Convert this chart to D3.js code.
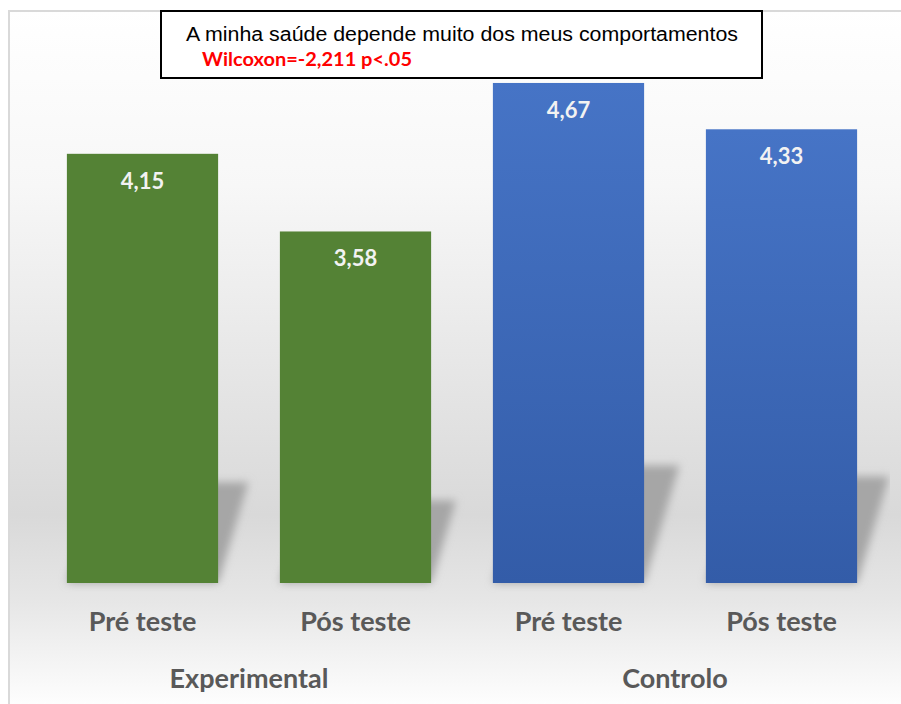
<!DOCTYPE html>
<html>
<head>
<meta charset="utf-8">
<script src="https://cdn.jsdelivr.net/npm/d3@7"></script>
<style>
  body { margin: 0; background: #fff; }
  .cat-label { font-family: Lato, "Open Sans", sans-serif; font-weight: 700; fill: #595959; }
</style>
</head>
<body>
<svg id="chart" width="901" height="704"></svg>
<script>
const categories = ['Pré teste', 'Pós teste', 'Pré teste', 'Pós teste'];
const groups = ['Experimental', 'Experimental', 'Controlo', 'Controlo'];
const values = [4.15, 3.58, 4.67, 4.33];
const valueLabels = ['4,15', '3,58', '4,67', '4,33'];
const groupNames = ['Experimental', 'Controlo'];
const yDomain = [1, 5];
const title = 'A minha saúde depende muito dos meus comportamentos';
const subtitle = 'Wilcoxon=-2,211 p<.05';

const data = categories.map((c, i) => ({ key: i, cat: c, group: groups[i], v: values[i], label: valueLabels[i] }));

const svg = d3.select('#chart');
const defs = svg.append('defs');

// chart area background, white -> grey -> white
const bg = defs.append('linearGradient').attr('id', 'bg')
  .attr('x1', 0).attr('y1', 0).attr('x2', 0).attr('y2', 1);
bg.append('stop').attr('offset', '0%').attr('stop-color', '#ffffff');
bg.append('stop').attr('offset', '25%').attr('stop-color', '#f7f7f7');
bg.append('stop').attr('offset', '72%').attr('stop-color', '#d9d9d9');
bg.append('stop').attr('offset', '84%').attr('stop-color', '#e6e6e6');
bg.append('stop').attr('offset', '100%').attr('stop-color', '#ffffff');

const blue = defs.append('linearGradient').attr('id', 'blue')
  .attr('x1', 0).attr('y1', 0).attr('x2', 0).attr('y2', 1);
blue.append('stop').attr('offset', '0%').attr('stop-color', '#4674c6');
blue.append('stop').attr('offset', '100%').attr('stop-color', '#335ca8');

defs.append('filter').attr('id', 'blur')
  .attr('x', '-20%').attr('y', '-20%').attr('width', '140%').attr('height', '140%')
  .append('feGaussianBlur').attr('stdDeviation', 4);

defs.append('clipPath').attr('id', 'plotclip')
  .append('rect').attr('x', 9).attr('y', 11).attr('width', 881).attr('height', 700);

svg.append('rect')
  .attr('x', 9).attr('y', 11).attr('width', 900).attr('height', 700)
  .attr('fill', 'url(#bg)')
  .attr('stroke', '#d9d9d9').attr('stroke-width', 2);

const xScale = d3.scaleBand()
  .domain(data.map(d => d.key))
  .range([36, 888])
  .paddingInner(0.29)
  .paddingOuter(0.145);

const yScale = d3.scaleLinear()
  .domain(yDomain)
  .range([583, 38]);

const base = yScale(yDomain[0]);

// floor shadows, skewed up to the right
const g = svg.append('g').attr('clip-path', 'url(#plotclip)');
g.selectAll('path.shadow').data(data)
  .enter().append('path')
  .attr('class', 'shadow')
  .attr('fill', '#a6a6a6')
  .attr('filter', 'url(#blur)')
  .attr('d', d => {
    const x0 = xScale(d.key), x1 = x0 + xScale.bandwidth();
    const h = (base - yScale(d.v)) * 0.235;
    const s = h * 0.3;
    return `M${x0},${base}L${x1},${base}L${x1 + s},${base - h}L${x0 + s},${base - h}Z`;
  });

g.selectAll('rect.bar').data(data)
  .enter().append('rect')
  .attr('class', 'bar')
  .attr('x', d => xScale(d.key))
  .attr('y', d => yScale(d.v))
  .attr('width', xScale.bandwidth())
  .attr('height', d => base - yScale(d.v))
  .attr('fill', d => d.group === 'Experimental' ? '#548235' : 'url(#blue)');

g.selectAll('text.val').data(data)
  .enter().append('text')
  .attr('class', 'val')
  .attr('x', d => xScale(d.key) + xScale.bandwidth() / 2)
  .attr('y', d => yScale(d.v) + 35)
  .attr('text-anchor', 'middle')
  .attr('font-family', 'Lato, "Open Sans", sans-serif')
  .attr('font-weight', 700)
  .attr('font-size', 22)
  .attr('fill', '#f2f2f2')
  .text(d => d.label);

// category axis
const xAxis = d3.axisBottom(xScale)
  .tickSize(0)
  .tickPadding(0)
  .tickFormat(k => categories[k]);

const xAxisG = svg.append('g')
  .attr('transform', `translate(0, ${base + 48})`)
  .call(xAxis);
xAxisG.select('.domain').remove();
xAxisG.selectAll('text')
  .attr('class', 'cat-label')
  .attr('dy', 0)
  .attr('font-size', 27)
  .style('font-family', 'Lato, "Open Sans", sans-serif');

svg.selectAll('text.grp').data(groupNames)
  .enter().append('text')
  .attr('class', 'cat-label grp')
  .attr('x', name => {
    const ks = data.filter(d => d.group === name).map(d => xScale(d.key) + xScale.bandwidth() / 2);
    return d3.mean(ks);
  })
  .attr('y', base + 105)
  .attr('text-anchor', 'middle')
  .attr('font-size', 27)
  .text(name => name);

// title box
svg.append('rect')
  .attr('x', 161).attr('y', 11).attr('width', 601).attr('height', 67)
  .attr('fill', '#ffffff').attr('stroke', '#000').attr('stroke-width', 2);

svg.append('text')
  .attr('x', 186).attr('y', 41)
  .attr('font-family', '"Liberation Sans", Arial, sans-serif')
  .attr('font-size', 20)
  .attr('textLength', 552)
  .attr('lengthAdjust', 'spacingAndGlyphs')
  .attr('fill', '#000')
  .text(title);

svg.append('text')
  .attr('x', 202).attr('y', 66)
  .attr('font-family', 'Lato, "Open Sans", sans-serif')
  .attr('font-weight', 700)
  .attr('font-size', 18.5)
  .attr('textLength', 210)
  .attr('lengthAdjust', 'spacingAndGlyphs')
  .attr('fill', '#ff0000')
  .text(subtitle);
</script>
</body>
</html>
